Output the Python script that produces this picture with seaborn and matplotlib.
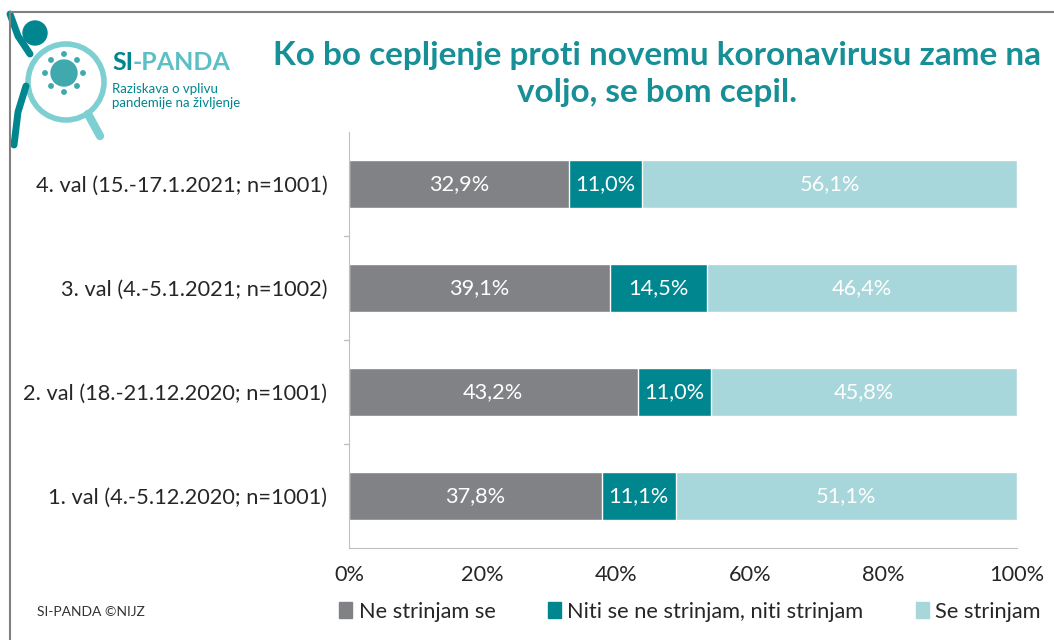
import pandas as pd
import matplotlib.pyplot as plt
import seaborn as sns
from matplotlib.patches import Circle, Rectangle
from matplotlib.lines import Line2D

waves = ["4. val (15.-17.1.2021; n=1001)",
         "3. val (4.-5.1.2021; n=1002)",
         "2. val (18.-21.12.2020; n=1001)",
         "1. val (4.-5.12.2020; n=1001)"]
ne_strinjam = [32.9, 39.1, 43.2, 37.8]
niti = [11.0, 14.5, 11.0, 11.1]
se_strinjam = [56.1, 46.4, 45.8, 51.1]
series = ["Ne strinjam se", "Niti se ne strinjam, niti strinjam", "Se strinjam"]
colors = ["#808285", "#00868F", "#A7D7DB"]
title = "Ko bo cepljenje proti novemu koronavirusu zame na\nvoljo, se bom cepil."

sns.set_style("white")
plt.rcParams['font.family'] = ['Lato', 'DejaVu Sans']

df = pd.DataFrame({"val": waves, "ne": ne_strinjam, "niti": niti, "se": se_strinjam})
df["c1"] = df["ne"]
df["c2"] = df["ne"] + df["niti"]
df["c3"] = df["c2"] + df["se"]

fig = plt.figure(figsize=(10.54, 6.4), dpi=100)
renderer = fig.canvas.get_renderer()


def fit_size(s, target_px, size=14, **kw):
    # font size that makes text s about target_px wide
    t = fig.text(0, 0, s, fontsize=size, **kw)
    w = t.get_window_extent(renderer).width
    t.remove()
    return size * target_px / w


fs = fit_size(waves[0], 292)
title_fs = fit_size(title.split("\n")[0], 768, size=20, fontweight="bold")

ax = fig.add_axes([349 / 1054, 1 - 548 / 640, 668 / 1054, 416 / 640])

# stacked by overdrawing cumulative sums
for col, c in zip(["c3", "c2", "c1"], colors[::-1]):
    sns.barplot(data=df, x=col, y="val", color=c, orient="h", width=0.455,
                saturation=1, ax=ax, order=waves)

for i, row in df.iterrows():
    starts = [0, row["c1"], row["c2"]]
    for s, v in zip(starts, [row["ne"], row["niti"], row["se"]]):
        ax.text(s + v / 2, i, f"{v:.1f}%".replace(".", ","), ha="center", va="center",
                color="white", fontsize=fs)

ax.set_xlim(0, 100)
ax.set_ylim(3.5, -0.5)
ax.set_xticks(range(0, 101, 20))
ax.set_xticklabels([f"{t}%" for t in range(0, 101, 20)], fontsize=fs, color="#262626")
ax.set_yticks(range(4))
ax.set_yticklabels(waves, fontsize=fs, color="#262626")
ax.set_xlabel("")
ax.set_ylabel("")
for s in ["top", "right"]:
    ax.spines[s].set_visible(False)
ax.spines["left"].set_color("#BFBFBF")
ax.spines["bottom"].set_color("#BFBFBF")
ax.tick_params(axis="y", length=0, pad=15.5)
ax.tick_params(axis="x", length=5, color="#BFBFBF", direction="out", pad=7)
# category boundary ticks on y axis
for b in [0.5, 1.5, 2.5]:
    ax.plot([-0.8, 0], [b, b], color="#BFBFBF", lw=1, clip_on=False)

# legend
handles = [Rectangle((0, 0), 1, 1, color=c) for c in colors]
fig.legend(handles, series, loc="center", bbox_to_anchor=(690 / 1054, 1 - 612 / 640), ncol=3,
           frameon=False, fontsize=fs, handlelength=0.6, handleheight=0.75,
           handletextpad=0.3, columnspacing=2.4, labelcolor="#262626")

# title
fig.text(657 / 1054, 1 - 74 / 640, title, ha="center", va="center", fontsize=title_fs,
         fontweight="bold", color="#178F96", linespacing=1.3)

# footer
fig.text(37 / 1054, 1 - 612 / 640, "SI-PANDA ©NIJZ", fontsize=10, color="#333333", va="center")

# frame
fig.add_artist(Line2D([0.0095, 0.0095], [0.0, 0.981], color="#808080", lw=1.5))
fig.add_artist(Line2D([0.0095, 1.0], [0.981, 0.981], color="#808080", lw=1.5))

# logo
lax = fig.add_axes([0, 1 - 150 / 640, 260 / 1054, 150 / 640])
lax.set_xlim(0, 260)
lax.set_ylim(150, 0)
lax.axis("off")
lax.add_patch(Circle((66, 82), 38, fill=False, ec="#7ECFD2", lw=4))
lax.plot([88, 100], [114, 136], color="#7ECFD2", lw=6, solid_capstyle="round")
lax.add_patch(Circle((64, 73), 13, color="#3FA9AE"))
for dx, dy in [(0, -19), (0, 19), (-19, 0), (19, 0), (13, 13), (-13, 13), (13, -13), (-13, -13)]:
    lax.add_patch(Circle((64 + dx, 73 + dy), 2.2, color="#3FA9AE"))
lax.add_patch(Circle((35, 33), 12, color="#00868F"))
lax.plot([10, 18, 30], [14, 36, 54], color="#00868F", lw=5, solid_capstyle="round")
lax.plot([26, 18, 14], [86, 112, 145], color="#00868F", lw=5, solid_capstyle="round")
t_si = lax.text(112, 62, "SI", color="#00868F", fontsize=18, fontweight="bold", va="center")
lax.annotate("-PANDA", xy=(1, 0.5), xycoords=t_si, va="center", color="#5CBFC4",
             fontsize=18, fontweight="bold")
lax.text(112, 89, "Raziskava o vplivu", color="#00868F", fontsize=9.5, va="center")
lax.text(112, 103, "pandemije na življenje", color="#00868F", fontsize=9.5, va="center")

fig.savefig("out.png", dpi=100)
